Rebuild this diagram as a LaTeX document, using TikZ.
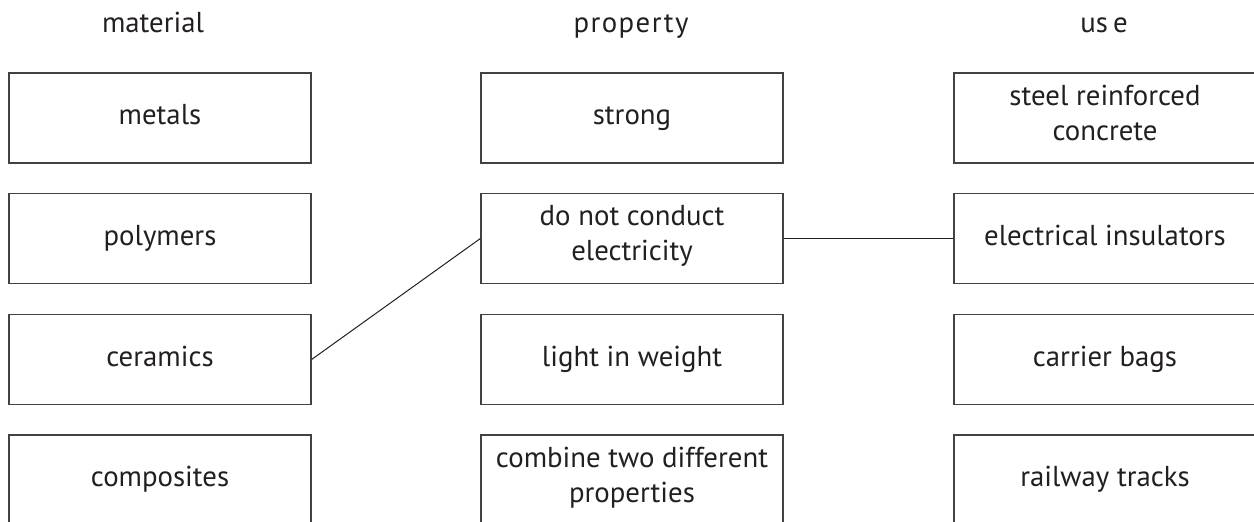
\documentclass[tikz,border=0pt]{standalone}
\usepackage{fontspec}
\setmainfont{PT Sans}
\definecolor{ink}{HTML}{231F20}
\tikzset{
  box/.style={draw=ink!85, line width=0.6pt, minimum width=151pt, minimum height=45pt,
    inner sep=0pt, align=center, text=ink, font=\fontsize{14.4}{17.5}\selectfont,
    execute at begin node=\strut, execute at end node=\strut},
  head/.style={text=ink, anchor=base, font=\fontsize{14.4}{17.5}\selectfont},
  link/.style={draw=ink, line width=0.5pt}
}
\begin{document}
\begin{tikzpicture}[x=0.5pt,y=-0.5pt]
\useasboundingbox (0,0) rectangle (1254,522);
\clip (0,0) rectangle (1254,522);
% column headings
\node[head] (hmaterial) at (153,33) {material};
\node[head] (hproperty) at (631,33) {\addfontfeature{LetterSpace=5}property};
\node[head] (huse) at (1104,33) {us\hspace{2.5pt}e};
% materials
\node[box] (metals) at (160,118) {metals};
\node[box] (polymers) at (160,238.5) {polymers};
\node[box] (ceramics) at (160,359.5) {ceramics};
\node[box] (composites) at (160,480) {composites};
% properties
\node[box] (strong) at (632,118) {strong};
\node[box] (noconduct) at (632,238.5) {do not conduct\\electricity};
\node[box] (light) at (632,359.5) {light in weight};
\node[box] (combine) at (632,480) {combine two different\\properties};
% uses
\node[box] (concrete) at (1105,118) {steel reinforced\\concrete};
\node[box] (insulators) at (1105,238.5) {electrical insulators};
\node[box] (bags) at (1105,359.5) {carrier bags};
\node[box] (tracks) at (1105,480) {railway tracks};
% links
\draw[link] (ceramics.east) -- (noconduct.west);
\draw[link] (noconduct.east) -- (insulators.west);
\end{tikzpicture}
\end{document}
